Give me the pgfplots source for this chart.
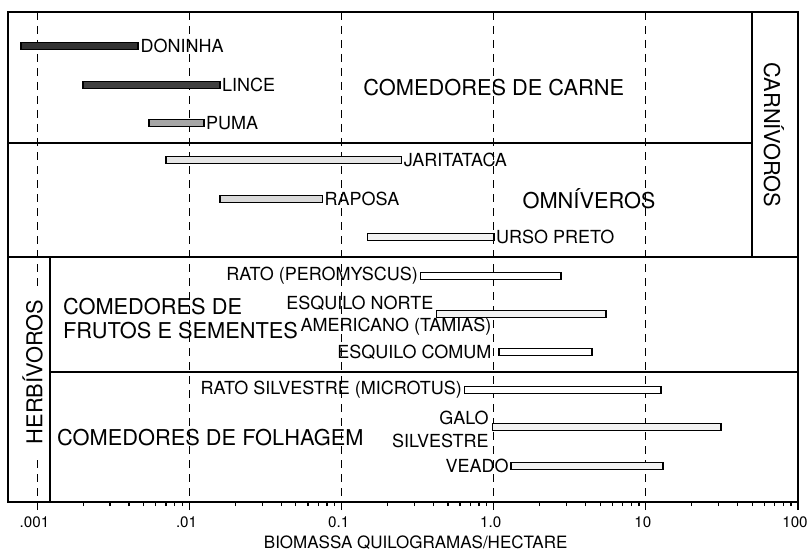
\documentclass[border=0pt]{standalone}
\usepackage{fontspec}
\setmainfont{TeX Gyre Heros}
\usepackage{pgfplots}
\pgfplotsset{compat=1.18}

% one floating bar: fill, from, to, top, bottom (y runs downward)
\newcommand{\faixa}[5]{%
  \addplot[draw=black, line width=0.8pt, fill=#1]
    coordinates {(#2,#4) (#3,#4) (#3,#5) (#2,#5)} -- cycle;}

\begin{document}
\begin{tikzpicture}
\begin{axis}[
    scale only axis,
    width=395pt, height=245pt,
    xmode=log,
    xmin=0.00064, xmax=100,
    ymin=12, ymax=502,
    y dir=reverse,
    ytick=\empty,
    xtick={0.001,0.01,0.1,1,10,100},
    xticklabels={.001,.01,0.1,1.0,10,100},
    xtick pos=left,
    tick align=outside,
    major tick length=4pt,
    minor tick length=2pt,
    every tick/.style={black, line width=0.6pt},
    xticklabel style={font=\fontsize{7.6}{9}\selectfont, xshift=-1.5pt},
    xmajorgrids,
    major grid style={black, line width=0.5pt, dash pattern=on 4pt off 3pt},
    axis line style={line width=0.8pt},
    xlabel={BIOMASSA QUILOGRAMAS/HECTARE},
    xlabel style={font=\fontsize{8.5}{10}\selectfont, at={(axis description cs:0.516,0)}, anchor=base, yshift=-23pt},
    clip=false,
]
\node[rotate=90, fill=white, inner xsep=7pt, inner ysep=1pt, font=\fontsize{10.9}{12}\selectfont] at (axis cs:0.00093,372) {HERBÍVOROS};

% separators
\draw[line width=0.8pt] (axis cs:0.00064,143) -- (axis cs:49.8,143);
\draw[line width=0.8pt] (axis cs:49.8,12) -- (axis cs:49.8,257);
\draw[line width=0.8pt] (axis cs:0.00064,257) -- (axis cs:100,257);
\draw[line width=0.8pt] (axis cs:0.001205,257) -- (axis cs:0.001205,502);
\draw[line width=0.8pt] (axis cs:0.001205,372) -- (axis cs:100,372);

% bars
\faixa{black!80}{0.00078}{0.0046}{42.5}{49.5}
\faixa{black!75}{0.0020}{0.0158}{81.5}{88.5}
\faixa{black!35}{0.0054}{0.0124}{119.5}{126.5}
\faixa{black!10}{0.0070}{0.247}{156.5}{163.5}
\faixa{black!15}{0.0158}{0.0746}{195.5}{202.5}
\faixa{black!5}{0.148}{1.0}{233.5}{240.5}
\faixa{white}{0.329}{2.77}{272.5}{279.5}
\faixa{black!5}{0.419}{5.47}{310.5}{317.5}
\faixa{white}{1.08}{4.43}{348.5}{355.5}
\faixa{white}{0.64}{12.6}{386.5}{393.5}
\faixa{black!5}{0.98}{31.1}{423.5}{430.5}
\faixa{black!5}{1.30}{12.9}{462.5}{469.5}

% bar names
\begin{scope}[every node/.style={font=\fontsize{9}{11.5}\selectfont, inner sep=1pt}]
\node[anchor=west] at (axis cs:0.0046,46) {DONINHA};
\node[anchor=west] at (axis cs:0.0158,85) {LINCE};
\node[anchor=west] at (axis cs:0.0124,123) {PUMA};
\node[anchor=west] at (axis cs:0.247,160) {JARITATACA};
\node[anchor=west] at (axis cs:0.0746,199) {RAPOSA};
\node[anchor=west] at (axis cs:1.0,237) {URSO PRETO};
\node[anchor=east] at (axis cs:0.329,276) {RATO (PEROMYSCUS)};
\node[anchor=east] at (axis cs:0.415,303) {ESQUILO NORTE};
\node[anchor=east] at (axis cs:1.0,327) {AMERICANO (TAMIAS)};
\node[anchor=east] at (axis cs:1.0,352) {ESQUILO COMUM};
\node[anchor=east] at (axis cs:0.64,390) {RATO SILVESTRE (MICROTUS)};
\node[anchor=east, align=right] at (axis cs:0.96,429) {GALO\\SILVESTRE};
\node[anchor=east] at (axis cs:1.30,466) {VEADO};
\end{scope}

% group names
\begin{scope}[every node/.style={font=\fontsize{10.9}{12}\selectfont, inner sep=1pt}]
\node at (axis cs:1.0,88) {COMEDORES DE CARNE};
\node at (axis cs:4.23,199) {OMNÍVEROS};
\node[rotate=-90] at (axis cs:69.4,135) {CARNÍVOROS};
\node[anchor=west, align=left] at (axis cs:0.00142,319) {COMEDORES DE\\FRUTOS E SEMENTES};
\node[anchor=west] at (axis cs:0.00130,438) {COMEDORES DE FOLHAGEM};
\end{scope}
\end{axis}
\pgfresetboundingbox
\path ([shift={(-4pt,-24.5pt)}]current axis.south west) rectangle ([shift={(5.5pt,6pt)}]current axis.north east);
\end{tikzpicture}
\end{document}
